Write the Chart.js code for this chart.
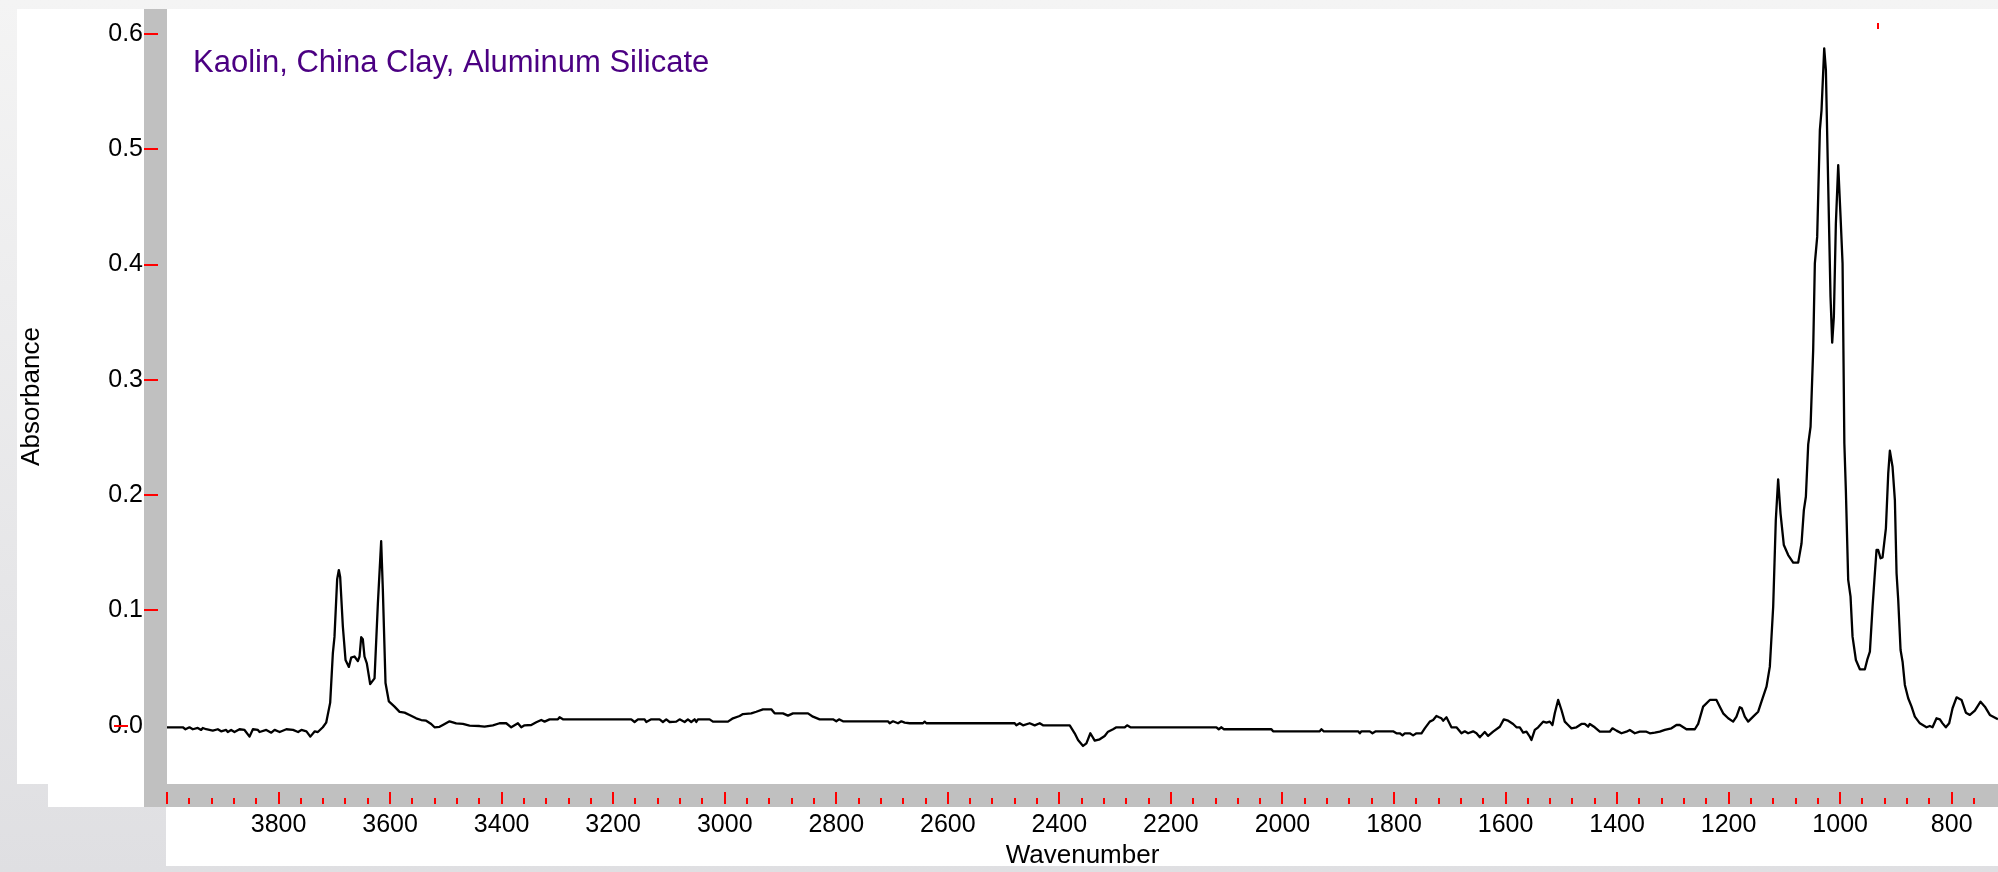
<!DOCTYPE html>
<html lang="en">
  <head>
    <meta charset="UTF-8" />
    <title>Kaolin, China Clay, Aluminum Silicate</title>
    <style>
      * {
        margin: 0px;
        padding: 0px;
        box-sizing: border-box;
      }

      body {
        width: 1998px;
        height: 872px;
        overflow: hidden;
        position: relative;
        background: linear-gradient(#f4f4f4, #dfdfe2);
      }

      .painel {
        position: absolute;
        background: #ffffff;
      }

      .faixa {
        position: absolute;
        background: #c0c0c0;
      }

      #grafico {
        position: absolute;
        left: 0px;
        top: 0px;
      }
    </style>
  </head>
  <body>
    <div class="painel" style="left:17px; top:9px; width:1981px; height:775px"></div>
    <div class="painel" style="left:48px; top:784px; width:96px; height:23px"></div>
    <div class="painel" style="left:166px; top:807px; width:1832px; height:59px"></div>
    <div class="faixa" style="left:144px; top:9px; width:23px; height:798px"></div>
    <div class="faixa" style="left:144px; top:784px; width:1854px; height:23px"></div>

    <div id="grafico">
      <canvas id="espectro" width="1998" height="872"></canvas>
    </div>

    <script src="https://cdn.jsdelivr.net/npm/chart.js"></script>
    <script>
      const sampleName = 'Kaolin, China Clay, Aluminum Silicate'

      // tick labels
      const xTicks = [3800, 3600, 3400, 3200, 3000, 2800, 2600, 2400, 2200, 2000, 1800, 1600, 1400, 1200, 1000, 800]
      const yTicks = [0.0, 0.1, 0.2, 0.3, 0.4, 0.5, 0.6]
      const topMark = 932

      // spectrum (cm-1, absorbance)
      const wavenumber = [
        4000, 3971.7, 3966.9, 3959.7, 3953.7, 3944.8, 3938.8, 3935.8, 3929.8, 3917.9,
        3908.9, 3902.9, 3894, 3891, 3885, 3879, 3870, 3861, 3852, 3846,
        3837, 3834, 3822, 3813, 3807, 3798, 3786, 3774, 3765, 3759,
        3750, 3743, 3735, 3729.5, 3720.6, 3714.6, 3707.4, 3702.6, 3699.7, 3694.9,
        3691.9, 3689.5, 3684.7, 3679.9, 3673.9, 3669.8, 3663.8, 3657.8, 3654.8, 3651.8,
        3648.9, 3645.9, 3641.7, 3635.7, 3627.9, 3621.9, 3616, 3613, 3608.2, 3602.2,
        3592, 3583, 3574, 3565.1, 3553.2, 3544.2, 3535.3, 3526.3, 3520.3, 3511.3,
        3505.4, 3493.4, 3481.5, 3469.5, 3457.5, 3439.6, 3430.6, 3415.7,
        3403.7, 3391.7, 3382.8, 3370.8, 3364.8, 3358.9, 3346.9, 3337.9, 3329, 3323,
        3314, 3299.1, 3296.1, 3290.1, 3167.6, 3161.6, 3155.6, 3143.7, 3140.7, 3131.7,
        3116.8, 3110.8, 3104.8, 3098.8, 3086.9, 3080.9, 3071.9, 3066, 3060, 3054,
        3051, 3048, 3027.1, 3021.1, 2994.2, 2985.2, 2973.3, 2967.3, 2952.4, 2943.4,
        2931.4, 2916.5, 2910.5, 2895.6, 2886.6, 2877.6, 2850.7, 2841.8, 2829.8, 2805.9,
        2799.9, 2795.1, 2788, 2707.3, 2704.3, 2698.3, 2689.3, 2683.3, 2677.4, 2668.4,
        2644.5, 2641.5, 2638.5, 2480.1, 2477.1,
        2471.1, 2465.1, 2453.2, 2444.2, 2435.2, 2429.3, 2381.4, 2372.5, 2366.5, 2357.5,
        2351.5, 2344.4, 2336.6, 2327.6, 2318.7, 2312.7, 2303.7, 2297.7, 2282.8, 2278.6,
        2272.6, 2118.4, 2114.2, 2109.4, 2105.3, 2019.8, 2016.8, 1933.1, 1930.1, 1925.9,
        1864.3, 1861.3, 1858.3, 1843.4, 1838.6, 1832.6, 1801.6, 1795.6, 1789.6, 1784.8,
        1780.6, 1771.7, 1765.7, 1759.7, 1750.7, 1744.8, 1735.8, 1729.8, 1723.9, 1719.1,
        1714.9, 1711.9, 1705.9, 1697, 1688, 1679, 1673.1, 1667.1, 1658.1, 1652.1,
        1646.1, 1637.2, 1631.2, 1622.2, 1610.3, 1603.1, 1595.3, 1586.4, 1580.4, 1574.4,
        1568.4, 1562.5, 1556.5, 1553.5, 1547.5, 1541.5,
        1532.6, 1526.6, 1520.7, 1515.9, 1511.7, 1505.7, 1499.7, 1493.8, 1487.8, 1481.8,
        1472.8, 1463.9, 1457.9, 1451.9, 1448.9, 1440, 1431, 1413.1, 1408.3, 1401.1,
        1392.1, 1383.2, 1377.2, 1368.2, 1359.3, 1347.3, 1341.3, 1332.4, 1323.4, 1314.4,
        1302.5, 1293.5, 1287.5, 1275.6, 1260.6, 1254.6, 1245.7, 1233.7, 1221.8, 1215.8,
        1209.8, 1200.8, 1191.9, 1185.9, 1179.9, 1176.3, 1171, 1165, 1156, 1147,
        1141.1, 1132.1, 1126.1, 1120.1, 1115.4, 1111.2, 1106.9, 1101, 1093.2, 1084.2,
        1075.3, 1069.3, 1065.1, 1061.5, 1057.3, 1053.1, 1048.4, 1045.4, 1041.2, 1036.4,
        1033.4, 1028.6, 1025.6, 1021.5, 1017.3, 1014.3, 1011.3, 1007.7, 1003.5, 999.3,
        995.7, 992.5, 989.8, 985.6, 981.4, 977.8, 971.8, 964.7, 955.7, 951.5,
        946.7, 941.9, 937.8, 934.8, 931.8, 927.6, 924, 918, 913.8, 910.9,
        906.1, 901.9, 898.9, 895.9, 891.7, 888.1, 884, 878, 872, 866.1,
        857.1, 845.2, 839.2, 834.4, 827.2, 821.2, 816.4, 810.5, 804.5, 798.5,
        791.3, 782.4, 774.6, 767.4, 758.5, 748.3, 740.5, 731.6, 717.2
      ]

      const absorbance = [
        -0.0014, -0.0014, -0.0031, -0.0014, -0.0031, -0.0020, -0.0037, -0.0020, -0.0031, -0.0043,
        -0.0031, -0.0049, -0.0037, -0.0055, -0.0037, -0.0055, -0.0031, -0.0037, -0.0095, -0.0031,
        -0.0037, -0.0055, -0.0037, -0.0061, -0.0037, -0.0055, -0.0031, -0.0037, -0.0055, -0.0037,
        -0.0049, -0.0095, -0.0049, -0.0055, -0.0014, 0.0026, 0.0200, 0.0630, 0.0770, 0.1270,
        0.1350, 0.1290, 0.0860, 0.0570, 0.0510, 0.0590, 0.0600, 0.0560, 0.0600, 0.0767,
        0.0750, 0.0600, 0.0540, 0.0360, 0.0410, 0.1060, 0.1600, 0.1180, 0.0370, 0.0210,
        0.0165, 0.0120, 0.0113, 0.0093, 0.0064, 0.0049, 0.0043, 0.0015, -0.0014, -0.0010,
        0.0006, 0.0038, 0.0020, 0.0015, 0.0000, -0.0003, -0.0009, 0.0003,
        0.0021, 0.0021, -0.0014, 0.0021, -0.0014, 0.0003, 0.0006, 0.0029, 0.0049, 0.0035,
        0.0055, 0.0055, 0.0073, 0.0055, 0.0055, 0.0032, 0.0055, 0.0055, 0.0032, 0.0055,
        0.0055, 0.0032, 0.0055, 0.0032, 0.0035, 0.0055, 0.0032, 0.0055, 0.0032, 0.0055,
        0.0032, 0.0055, 0.0055, 0.0035, 0.0035, 0.0064, 0.0084, 0.0101, 0.0107, 0.0121,
        0.0142, 0.0142, 0.0107, 0.0107, 0.0087, 0.0107, 0.0107, 0.0078, 0.0055, 0.0055,
        0.0038, 0.0055, 0.0038, 0.0038, 0.0021, 0.0038, 0.0021, 0.0038, 0.0026, 0.0021,
        0.0021, 0.0035, 0.0021, 0.0021, 0.0003,
        0.0021, 0.0003, 0.0021, 0.0003, 0.0021, 0.0003, 0.0003, -0.0066, -0.0124, -0.0176,
        -0.0153, -0.0066, -0.0130, -0.0118, -0.0089, -0.0052, -0.0031, -0.0014, -0.0014, 0.0003,
        -0.0014, -0.0014, -0.0031, -0.0014, -0.0031, -0.0031, -0.0049, -0.0049, -0.0031, -0.0049,
        -0.0049, -0.0066, -0.0049, -0.0049, -0.0066, -0.0049, -0.0049, -0.0066, -0.0066, -0.0084,
        -0.0066, -0.0066, -0.0084, -0.0066, -0.0066, -0.0023, 0.0035, 0.0049, 0.0084, 0.0073,
        0.0064, 0.0043, 0.0073, -0.0014, -0.0014, -0.0066, -0.0049, -0.0066, -0.0049, -0.0066,
        -0.0101, -0.0055, -0.0089, -0.0052, -0.0009, 0.0055, 0.0043, 0.0015, -0.0014, -0.0014,
        -0.0061, -0.0052, -0.0095, -0.0124, -0.0037, -0.0014,
        0.0035, 0.0026, 0.0035, 0.0006, 0.0107, 0.0223, 0.0136, 0.0035, 0.0006, -0.0023,
        -0.0014, 0.0015, 0.0015, -0.0009, 0.0015, -0.0014, -0.0052, -0.0052, -0.0023, -0.0043,
        -0.0066, -0.0052, -0.0037, -0.0066, -0.0052, -0.0052, -0.0066, -0.0061, -0.0052, -0.0037,
        -0.0023, 0.0006, 0.0006, -0.0031, -0.0031, 0.0015, 0.0165, 0.0223, 0.0223, 0.0165,
        0.0107, 0.0064, 0.0035, 0.0078, 0.0160, 0.0151, 0.0078, 0.0035, 0.0078, 0.0121,
        0.0208, 0.0338, 0.0512, 0.1032, 0.1784, 0.2137, 0.1840, 0.1567, 0.1480, 0.1414,
        0.1414, 0.1580, 0.1870, 0.1986, 0.2440, 0.2593, 0.3258, 0.4010, 0.4240, 0.5166,
        0.5340, 0.5875, 0.5687, 0.4704, 0.3720, 0.3322, 0.3547, 0.4357, 0.4863, 0.4415,
        0.4010, 0.2450, 0.2044, 0.1264, 0.1119, 0.0772, 0.0570, 0.0489, 0.0489, 0.0570,
        0.0642, 0.1032, 0.1322, 0.1524, 0.1524, 0.1452, 0.1460, 0.1712, 0.2189, 0.2385,
        0.2246, 0.1957, 0.1322, 0.1090, 0.0657, 0.0555, 0.0353, 0.0238, 0.0165, 0.0078,
        0.0020, -0.0014, -0.0003, -0.0014, 0.0064, 0.0055, 0.0020, -0.0014, 0.0020, 0.0151,
        0.0246, 0.0223, 0.0113, 0.0093, 0.0130, 0.0208, 0.0165, 0.0093, 0.0055
      ]

      const fonte = '"Liberation Sans", Arial, sans-serif'

      // red tick marks, sample name and the little marker at the top
      const marcas = {
        id: 'marcas',
        afterDraw(chart) {
          const { ctx, chartArea: area, scales: { x, y } } = chart
          ctx.save()
          ctx.strokeStyle = '#ff0000'
          ctx.lineWidth = 2
          ctx.beginPath()
          yTicks.forEach(v => {
            const py = Math.round(y.getPixelForValue(v))
            const x0 = v === 0 ? area.left - 53 : area.left - 23
            ctx.moveTo(x0, py)
            ctx.lineTo(x0 + 14, py)
          })
          for (let v = x.max; v > x.min + 5; v -= 40) {
            const px = Math.round(x.getPixelForValue(v))
            const grande = v % 200 === 0
            ctx.moveTo(px, area.bottom + (grande ? 8 : 14))
            ctx.lineTo(px, area.bottom + 20)
          }
          const pm = Math.round(x.getPixelForValue(topMark))
          ctx.moveTo(pm, area.top + 14)
          ctx.lineTo(pm, area.top + 20)
          ctx.stroke()

          ctx.fillStyle = '#4b0082'
          ctx.font = '31px ' + fonte
          ctx.textAlign = 'left'
          ctx.textBaseline = 'alphabetic'
          ctx.fillText(sampleName, area.left + 26, area.top + 63)
          ctx.restore()
        }
      }

      const ctx = document.getElementById('espectro')

      let grafico = new Chart(ctx, {
        type: 'line',
        data: {
          datasets: [{
            label: sampleName,
            data: wavenumber.map((w, i) => ({ x: w, y: absorbance[i] })),
            borderColor: '#000000',
            borderWidth: 2.3,
            borderJoinStyle: 'round',
            pointRadius: 0,
            tension: 0,
            fill: false
          }]
        },
        options: {
          responsive: false,
          animation: false,
          layout: { padding: { top: 9, left: 0, right: 0, bottom: 0 } },
          plugins: {
            legend: { display: false },
            tooltip: { enabled: false }
          },
          scales: {
            x: {
              type: 'linear',
              reverse: true,
              min: 717,
              max: 4000,
              afterBuildTicks: s => { s.ticks = xTicks.map(v => ({ value: v })) },
              afterFit: s => { s.height = 88; s.paddingLeft = 0; s.paddingRight = 0 },
              grid: { display: false, drawTicks: false },
              border: { display: false },
              ticks: {
                font: { family: fonte, size: 25 },
                color: '#000000',
                padding: 26,
                maxRotation: 0,
                autoSkip: false,
                callback: v => String(v)
              },
              title: {
                display: true,
                text: 'Wavenumber',
                font: { family: fonte, size: 26 },
                color: '#000000',
                padding: { top: 0, bottom: 1 }
              }
            },
            y: {
              type: 'linear',
              min: -0.0506,
              max: 0.6217,
              afterBuildTicks: s => { s.ticks = yTicks.map(v => ({ value: v })) },
              afterFit: s => { s.width = 167; s.paddingTop = 0; s.paddingBottom = 0 },
              grid: { display: false, drawTicks: false },
              border: { display: false },
              ticks: {
                font: { family: fonte, size: 25 },
                color: '#000000',
                padding: 24,
                callback: v => v.toFixed(1)
              },
              title: {
                display: true,
                text: 'Absorbance',
                font: { family: fonte, size: 26 },
                color: '#000000',
                padding: { top: 16, bottom: 0 }
              }
            }
          }
        },
        plugins: [marcas]
      })
    </script>
  </body>
</html>
